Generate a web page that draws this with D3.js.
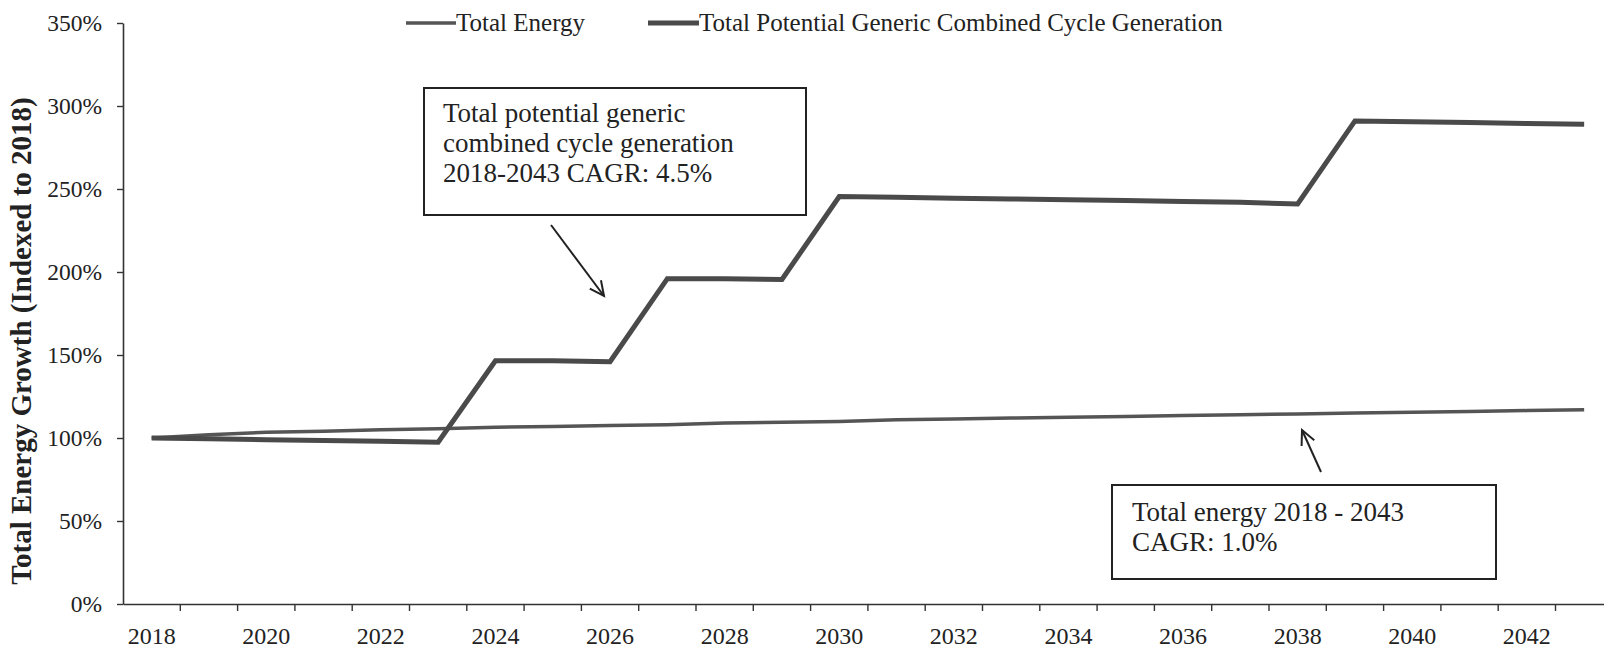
<!DOCTYPE html>
<html>
<head>
<meta charset="utf-8">
<script src="https://cdn.jsdelivr.net/npm/d3@7"></script>
<style>
  html, body { margin: 0; padding: 0; background: #fff; }
  svg { display: block; font-family: "Liberation Serif", "Times New Roman", serif; }
</style>
</head>
<body>
<svg id="chart" width="1604" height="660"></svg>
<script>
// ---- Data ----
const years = [2018, 2019, 2020, 2021, 2022, 2023, 2024, 2025, 2026, 2027, 2028, 2029, 2030,
               2031, 2032, 2033, 2034, 2035, 2036, 2037, 2038, 2039, 2040, 2041, 2042, 2043];
const totalEnergy = [1.000, 1.020, 1.035, 1.040, 1.050, 1.055, 1.065, 1.070, 1.075, 1.080, 1.090, 1.095, 1.100,
                     1.110, 1.115, 1.120, 1.125, 1.130, 1.135, 1.140, 1.145, 1.150, 1.155, 1.160, 1.165, 1.170];
const generation = [1.000, 0.995, 0.990, 0.985, 0.980, 0.975, 1.465, 1.465, 1.460, 1.960, 1.960, 1.955, 2.455,
                    2.450, 2.445, 2.440, 2.435, 2.430, 2.425, 2.420, 2.410, 2.910, 2.905, 2.900, 2.895, 2.890];
const seriesNames = ["Total Energy", "Total Potential Generic Combined Cycle Generation"];
const yTicks = [0, 0.5, 1.0, 1.5, 2.0, 2.5, 3.0, 3.5];
const xTickLabels = [2018, 2020, 2022, 2024, 2026, 2028, 2030, 2032, 2034, 2036, 2038, 2040, 2042];
const yTitle = "Total Energy Growth (Indexed to 2018)";
const note1 = ["Total potential generic", "combined cycle generation", "2018-2043 CAGR: 4.5%"];
const note2 = ["Total energy 2018 - 2043", "CAGR: 1.0%"];

// ---- Layout ----
const svg = d3.select("#chart");
const padL = 123, padB = 604, padT = 23, band = 57.3;
const x = d3.scaleBand().domain(years).range([padL, padL + band * years.length]).padding(0);
const y = d3.scaleLinear().domain([0, 3.5]).range([padB, padT]);
const cx = yr => x(yr) + x.bandwidth() / 2;
const ink = "#222";

// Y axis
const yAxis = svg.append("g")
  .attr("transform", `translate(${padL},0)`)
  .call(d3.axisLeft(y).tickValues(yTicks).tickFormat(d3.format(".0%")).tickSize(6).tickSizeOuter(0).tickPadding(15));
yAxis.select(".domain").attr("stroke", "#333").attr("stroke-width", 1.6);
yAxis.selectAll(".tick line").attr("stroke", "#333").attr("stroke-width", 1.4);
yAxis.selectAll(".tick text").attr("fill", ink).style("font-size", "23.5px")
  .style("font-family", "Liberation Serif, serif");

// X axis (band boundaries as ticks, labels every other year)
const xAxis = svg.append("g")
  .attr("transform", `translate(0,${padB})`)
  .call(d3.axisBottom(x).tickValues(xTickLabels).tickSize(0).tickSizeOuter(0).tickPadding(23));
xAxis.select(".domain").attr("stroke", "#333").attr("stroke-width", 1.6);
xAxis.selectAll(".tick text").attr("fill", ink).style("font-size", "24px")
  .style("font-family", "Liberation Serif, serif");
xAxis.selectAll(".bound").data(years.slice(1)).enter().append("line")
  .attr("class", "bound")
  .attr("x1", d => x(d)).attr("x2", d => x(d))
  .attr("y1", 0).attr("y2", 7)
  .attr("stroke", "#333").attr("stroke-width", 1.4);

// Y title
svg.append("text")
  .attr("transform", `translate(31,341) rotate(-90)`)
  .attr("text-anchor", "middle")
  .attr("fill", ink)
  .style("font-size", "29px").style("font-weight", "bold")
  .text(yTitle);

// Lines
const line = d3.line().x((d, i) => cx(years[i])).y(d => y(d));
svg.append("path").datum(totalEnergy)
  .attr("d", line).attr("fill", "none")
  .attr("stroke", "#555").attr("stroke-width", 3.5).attr("stroke-linejoin", "miter");
svg.append("path").datum(generation)
  .attr("d", line).attr("fill", "none")
  .attr("stroke", "#4a4a4a").attr("stroke-width", 5).attr("stroke-linejoin", "miter");

// Legend
const legend = [
  { name: seriesNames[0], x0: 406, x1: 456, w: 3.5, c: "#555" },
  { name: seriesNames[1], x0: 648, x1: 699, w: 5, c: "#4a4a4a" }
];
legend.forEach(l => {
  svg.append("line").attr("x1", l.x0).attr("x2", l.x1).attr("y1", 23).attr("y2", 23)
    .attr("stroke", l.c).attr("stroke-width", l.w);
  svg.append("text").attr("x", l.x1).attr("y", 31).attr("fill", ink)
    .style("font-size", "25px").text(l.name);
});

// Annotations
function box(x0, y0, w, h, lines, tx, ty0, lh) {
  svg.append("rect").attr("x", x0).attr("y", y0).attr("width", w).attr("height", h)
    .attr("fill", "#fff").attr("stroke", "#222").attr("stroke-width", 2);
  lines.forEach((t, i) => {
    svg.append("text").attr("x", tx).attr("y", ty0 + i * lh).attr("fill", ink)
      .style("font-size", "27px").text(t);
  });
}
function arrow(x0, y0, x1, y1) {
  const g = svg.append("g").attr("stroke", "#222").attr("stroke-width", 2).attr("fill", "none");
  g.append("line").attr("x1", x0).attr("y1", y0).attr("x2", x1).attr("y2", y1);
  const a = Math.atan2(y1 - y0, x1 - x0), L = 16, s = 0.45;
  g.append("path").attr("d",
    `M${x1 - L * Math.cos(a - s)},${y1 - L * Math.sin(a - s)} L${x1},${y1} L${x1 - L * Math.cos(a + s)},${y1 - L * Math.sin(a + s)}`);
}
box(424, 88, 382, 127, note1, 443, 122, 30);
arrow(551, 225, 604, 296);
box(1112, 485, 384, 94, note2, 1132, 521, 30);
arrow(1321, 472, 1302, 430);
</script>
</body>
</html>
